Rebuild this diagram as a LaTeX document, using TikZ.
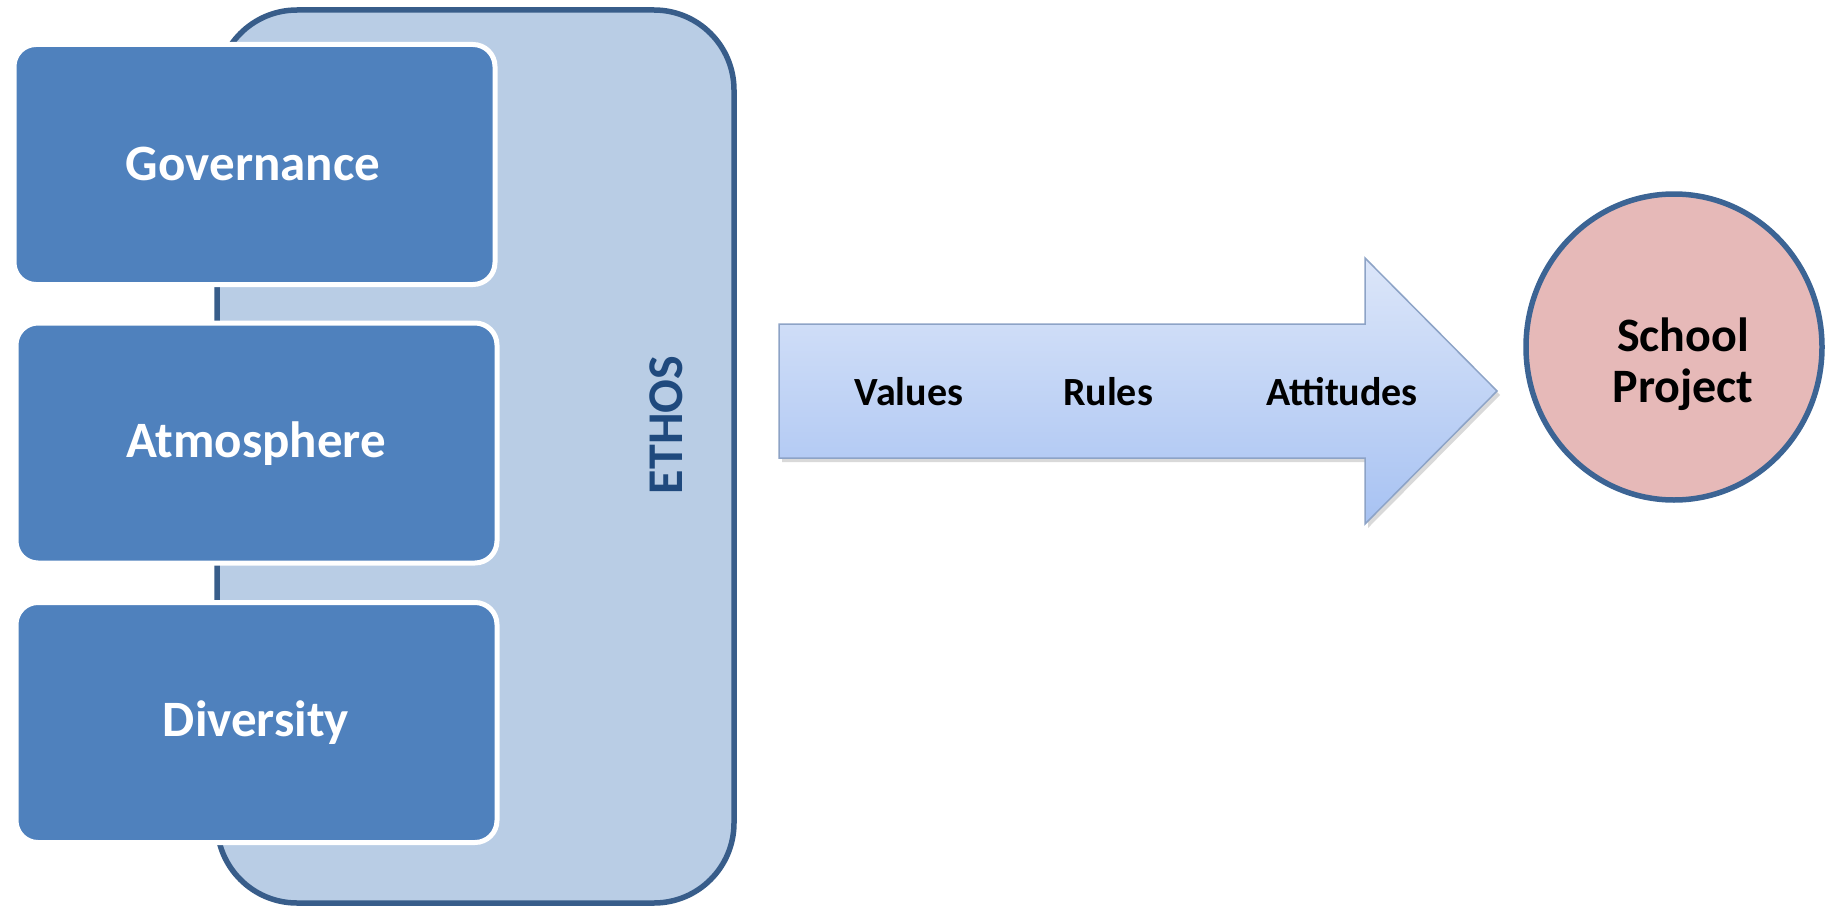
\documentclass[tikz,border=0pt]{standalone}
\usepackage{fontspec}
\setmainfont{Carlito}
\usetikzlibrary{shapes.geometric}
\definecolor{boxblue}{HTML}{4F81BD}
\definecolor{ethosfill}{HTML}{B9CDE5}
\definecolor{ethosline}{HTML}{385D8A}
\definecolor{ethostext}{HTML}{1F497D}
\definecolor{projfill}{HTML}{E6B9B8}
\definecolor{projline}{HTML}{3C6494}
\definecolor{arrowtop}{HTML}{DCE6F9}
\definecolor{arrowbot}{HTML}{A7C2F2}
\definecolor{arrowline}{HTML}{8DA3C6}
\begin{document}
\begin{tikzpicture}[x=1pt,y=-1pt,
  ethosbox/.style={draw=ethosline, line width=5.5pt, fill=ethosfill, rounded corners=80pt,
    minimum width=517pt, minimum height=893pt, inner sep=0pt, outer sep=0pt},
  pillar/.style={draw=white, line width=5pt, fill=boxblue, rounded corners=22pt,
    minimum width=481pt, minimum height=240pt, inner sep=0pt},
  pillartext/.style={anchor=base, text=white, font=\bfseries\fontsize{51}{60}\selectfont, inner sep=0pt},
  ethoslabel/.style={anchor=base, rotate=90, text=ethostext, font=\bfseries\fontsize{50}{60}\selectfont, inner sep=0pt},
  arrowtext/.style={anchor=base, text=black, font=\bfseries\fontsize{40}{48}\selectfont, inner sep=0pt},
  projcircle/.style={ellipse, draw=projline, line width=5.5pt, fill=projfill, minimum width=296pt, minimum height=306pt, inner sep=0pt},
  projtext/.style={align=center, text=black, font=\bfseries\fontsize{48}{51}\selectfont, inner sep=0pt}
]
\useasboundingbox (0,0) rectangle (1826,907);

% ETHOS container
\node[ethosbox] (ethos) at (475.5,456.5) {};
\node[ethoslabel] (ethoslbl) at (682,425) {ETHOS};

% pillars
\node[pillar] (gov) at (254.5,164.5) {};
\node[pillar] (atm) at (256.5,443) {};
\node[pillar] (div) at (256.5,722.5) {};
\node[pillartext] (govlbl) at (253,180) {Governance};
\node[pillartext] (atmlbl) at (256,457) {Atmosphere};
\node[pillartext] (divlbl) at (256,736) {Diversity};

% block arrow
\path[top color=arrowtop, bottom color=arrowbot, draw=arrowline, line width=1.5pt, line join=miter,
  preaction={fill=black, opacity=0.15, transform canvas={shift={(3pt,-4pt)}}}]
  (779,324) -- (1365,324) -- (1365,258) -- (1497,391) -- (1365,524) -- (1365,458) -- (779,458) -- cycle;
\node[arrowtext] (values) at (909,405) {Values};
\node[arrowtext] (rules) at (1108,405) {Rules};
\node[arrowtext] (attitudes) at (1342,405) {Attitudes};

% school project
\node[projcircle] (proj) at (1674,347) {};
\node[projtext] (projlbl) at (1683,364) {School\\Project};
\end{tikzpicture}
\end{document}
